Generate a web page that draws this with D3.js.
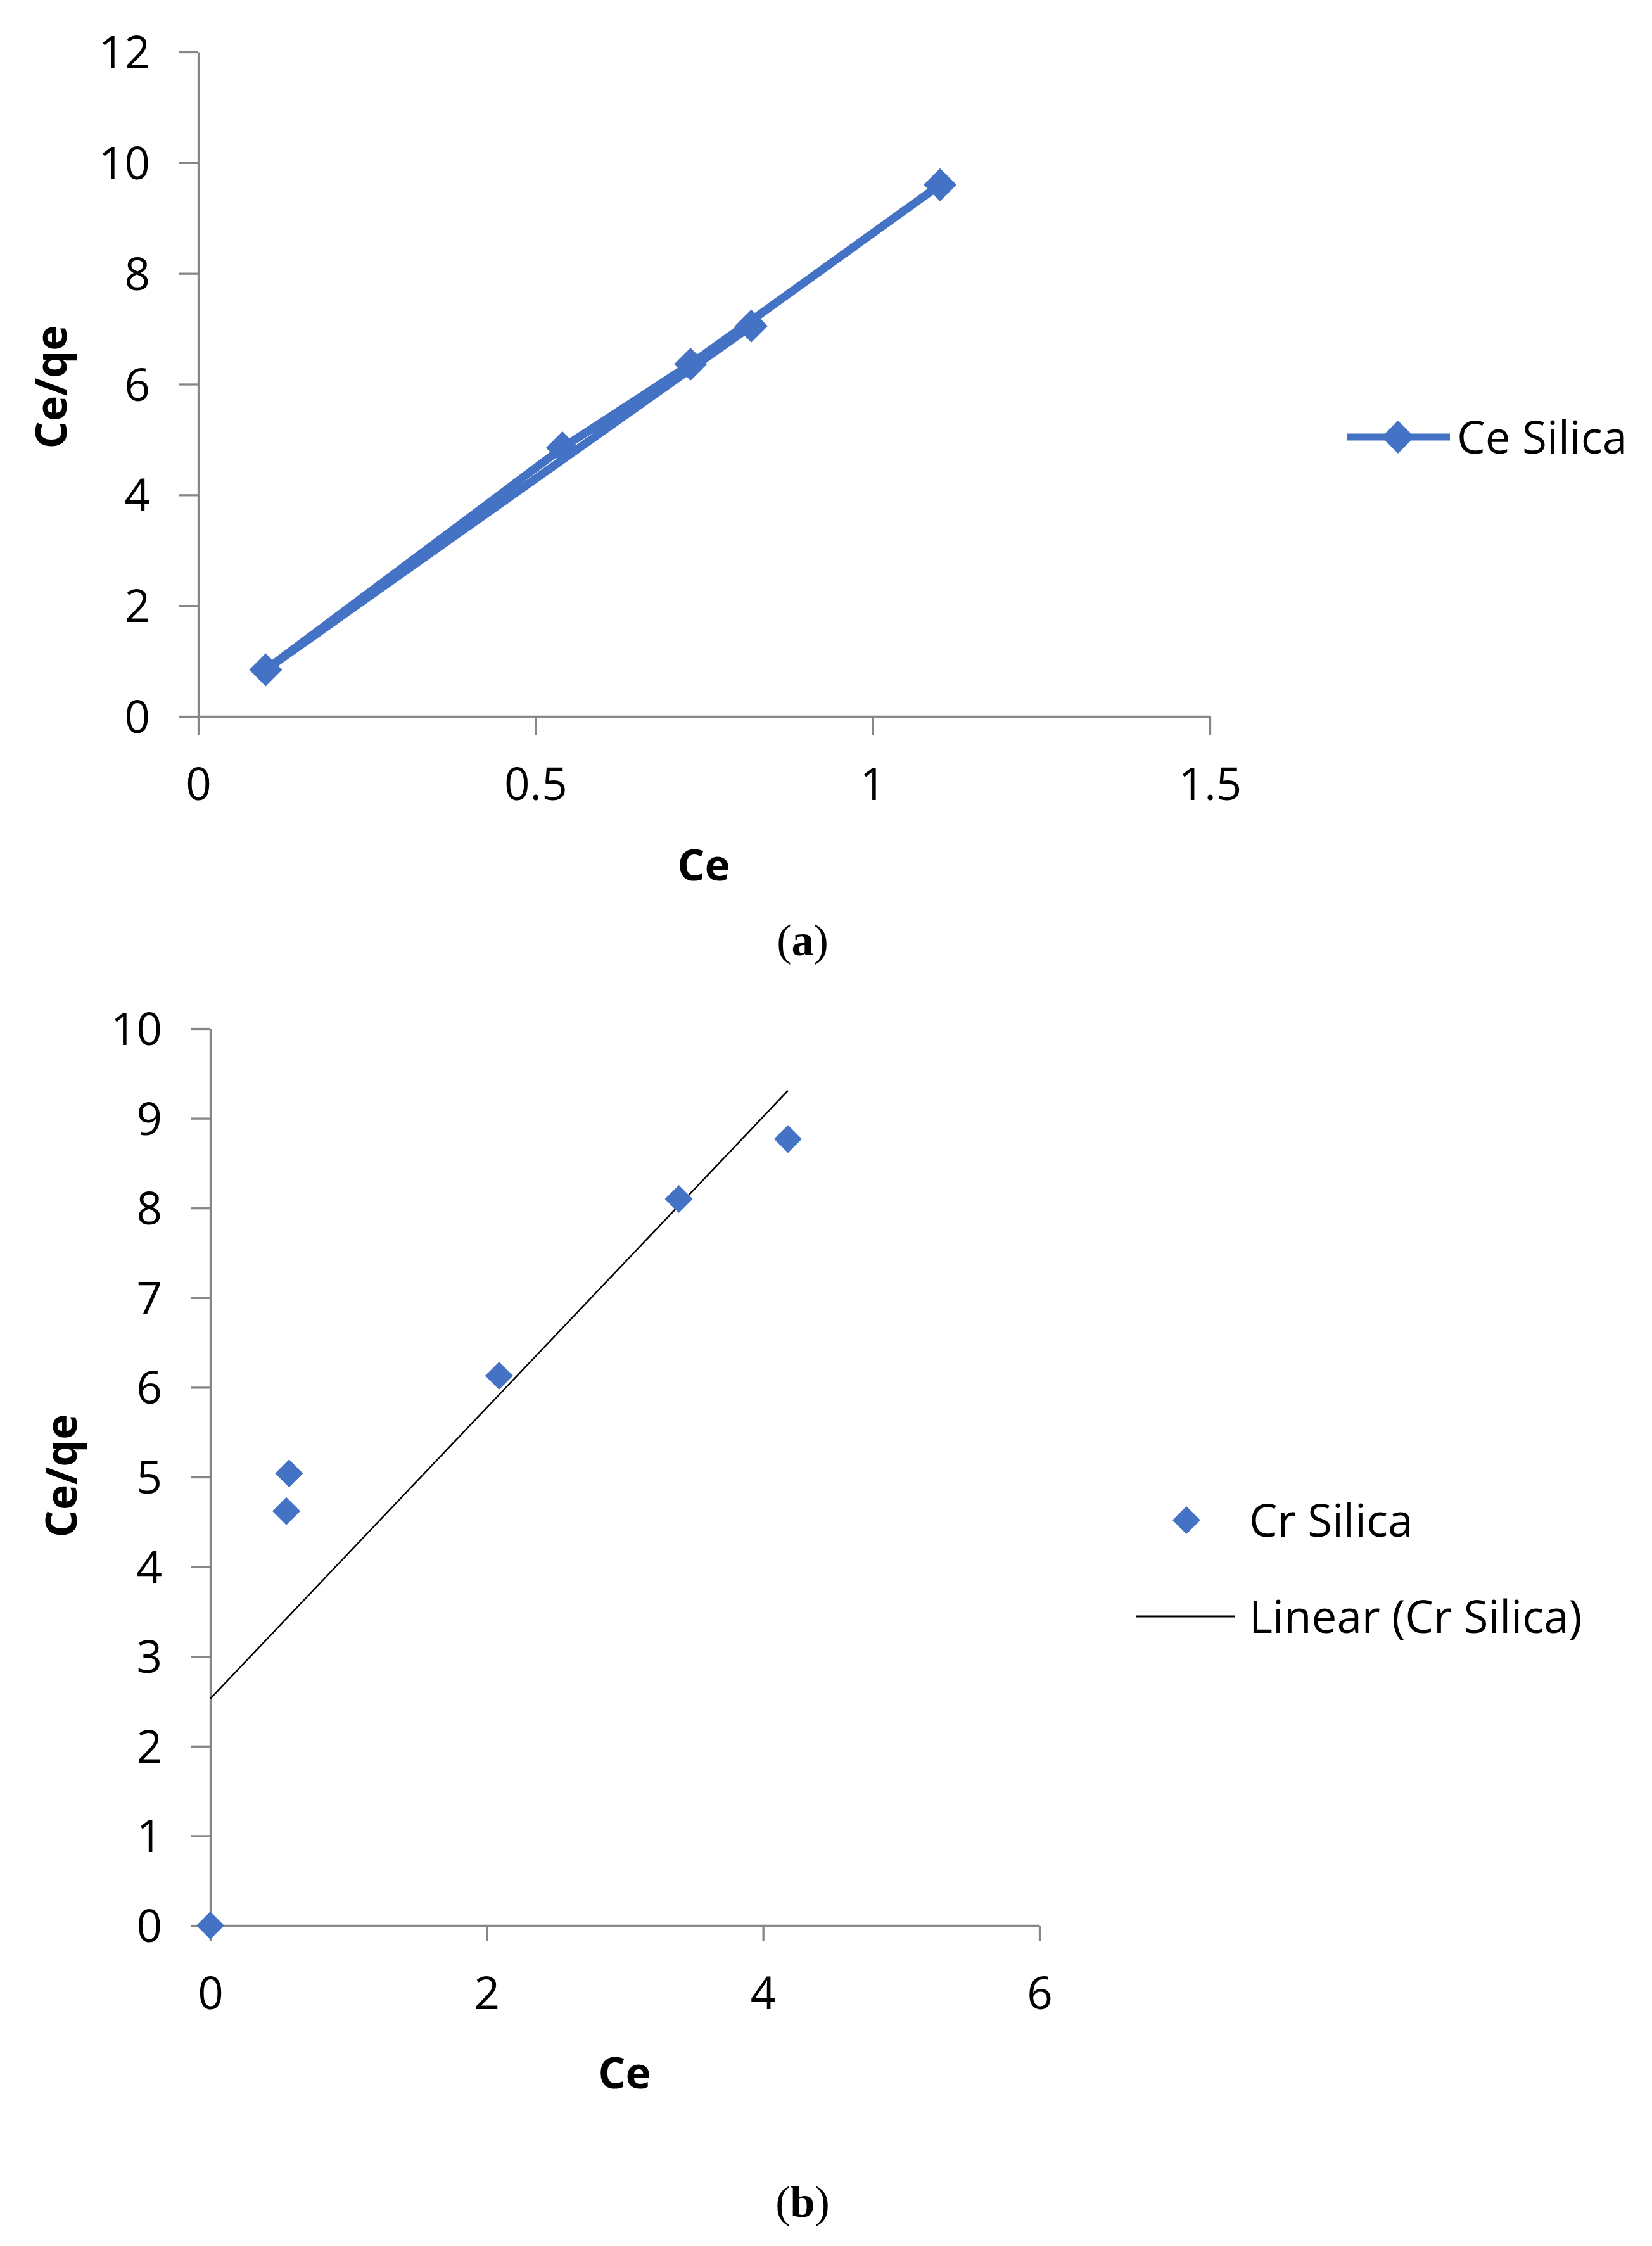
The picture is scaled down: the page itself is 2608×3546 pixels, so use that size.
<!DOCTYPE html>
<html>
<head>
<meta charset="utf-8">
<script src="https://cdn.jsdelivr.net/npm/d3@7"></script>
<style>
  html, body { margin: 0; padding: 0; background: #fff; }
  svg { display: block; }
</style>
</head>
<body>
<svg id="chart" width="2608" height="3546"></svg>
<script>
// ---------- DATA ----------
// Panel (a): Ce Silica (scatter with lines, in data order)
const ceX = [0.82, 0.10, 0.54, 0.73, 1.10];
const ceY = [7.05, 0.84, 4.85, 6.36, 9.60];
const aXTicks = [0, 0.5, 1, 1.5];
const aYTicks = [0, 2, 4, 6, 8, 10, 12];

// Panel (b): Cr Silica (markers only) + linear trendline
const crX = [0, 0.55, 0.57, 2.09, 3.39, 4.18];
const crY = [0, 4.62, 5.04, 6.13, 8.10, 8.77];
const bXTicks = [0, 2, 4, 6];
const bYTicks = [0, 1, 2, 3, 4, 5, 6, 7, 8, 9, 10];

const xTitle = "Ce";
const yTitle = "Ce/qe";
const legendA = ["Ce Silica"];
const legendB = ["Cr Silica", "Linear (Cr Silica)"];

// ---------- STYLE ----------
const BLUE = "#4472C4";
const AXIS = "#868686";
const FONT = "'Open Sans', sans-serif";
const TICK_FS = 71;

const svg = d3.select("#chart");
svg.append("rect").attr("width", 2608).attr("height", 3546).attr("fill", "#fff");

function diamond(g, x, y, diag) {
  const side = diag / Math.SQRT2;
  g.append("path")
    .attr("d", d3.symbol(d3.symbolSquare, side * side)())
    .attr("transform", `translate(${x},${y}) rotate(45)`)
    .attr("fill", BLUE);
}

function drawAxes(x, y, xTicks, yTicks, fmtX, tickLenX, tickLenY) {
  const gx = svg.append("g")
    .attr("transform", `translate(0,${y.range()[0]})`)
    .call(d3.axisBottom(x).tickValues(xTicks).tickFormat(fmtX).tickSize(tickLenX).tickSizeOuter(0));
  const gy = svg.append("g")
    .attr("transform", `translate(${x.range()[0]},0)`)
    .call(d3.axisLeft(y).tickValues(yTicks).tickFormat(d3.format("d")).tickSize(tickLenY).tickSizeOuter(0));
  [gx, gy].forEach(g => {
    g.select(".domain").attr("stroke", AXIS).attr("stroke-width", 3.3);
    g.selectAll(".tick line").attr("stroke", AXIS).attr("stroke-width", 3.3);
    g.selectAll(".tick text")
      .attr("font-family", FONT).attr("font-size", TICK_FS).attr("fill", "#000");
  });
  gx.selectAll(".tick text").attr("y", 132).attr("dy", 0);
  gy.selectAll(".tick text").attr("x", -(tickLenY + 46)).attr("dy", "0.36em");
}

function axisTitles(xcx, xcy, ycx, ycy) {
  svg.append("text").text(xTitle)
    .attr("x", xcx).attr("y", xcy).attr("dy", "0.36em")
    .attr("text-anchor", "middle")
    .attr("font-family", FONT).attr("font-weight", 700).attr("font-size", 68).attr("fill", "#000");
  svg.append("text").text(yTitle)
    .attr("transform", `translate(${ycx},${ycy}) rotate(-90)`)
    .attr("dy", "0.36em")
    .attr("text-anchor", "middle")
    .attr("font-family", FONT).attr("font-weight", 700).attr("font-size", 68).attr("fill", "#000");
}

function caption(letter, cx, baseline) {
  const t = svg.append("text")
    .attr("x", cx).attr("y", baseline).attr("text-anchor", "middle")
    .attr("font-family", "'Liberation Serif', 'Times New Roman', serif")
    .attr("font-size", 70).attr("fill", "#000");
  t.append("tspan").text("(");
  t.append("tspan").attr("font-weight", 700).text(letter);
  t.append("tspan").text(")");
}

// ---------- PANEL (a) ----------
const xa = d3.scaleLinear().domain([0, 1.5]).range([313, 1910]);
const ya = d3.scaleLinear().domain([0, 12]).range([1131, 82]);
drawAxes(xa, ya, aXTicks, aYTicks, d => d === 0 ? "0" : String(d), 29, 30);

const ptsA = ceX.map((v, i) => [v, ceY[i]]);
svg.append("path")
  .attr("d", d3.line().x(d => xa(d[0])).y(d => ya(d[1]))(ptsA))
  .attr("fill", "none").attr("stroke", BLUE).attr("stroke-width", 13)
  .attr("stroke-linejoin", "round").attr("stroke-linecap", "round");
const gA = svg.append("g");
ptsA.forEach(d => diamond(gA, xa(d[0]), ya(d[1]), 52));

axisTitles(1111, 1366, 81, 611);

// legend (a)
const legA = svg.append("g");
legA.append("line").attr("x1", 2126).attr("x2", 2289).attr("y1", 690).attr("y2", 690)
  .attr("stroke", BLUE).attr("stroke-width", 11);
diamond(legA, 2207, 690, 52);
legA.append("text").text(legendA[0]).attr("x", 2300).attr("y", 690).attr("dy", "0.36em")
  .attr("font-family", FONT).attr("font-size", TICK_FS).attr("fill", "#000");

caption("a", 1267, 1508);

// ---------- PANEL (b) ----------
const xb = d3.scaleLinear().domain([0, 6]).range([332, 1641]);
const yb = d3.scaleLinear().domain([0, 10]).range([3040, 1624]);
drawAxes(xb, yb, bXTicks, bYTicks, d3.format("d"), 25, 30);

// linear trendline (least squares on Cr Silica data)
const n = crX.length;
const mx = d3.mean(crX), my = d3.mean(crY);
let sxy = 0, sxx = 0;
for (let i = 0; i < n; i++) { sxy += (crX[i] - mx) * (crY[i] - my); sxx += (crX[i] - mx) ** 2; }
const slope = sxy / sxx, intercept = my - slope * mx;
const xMin = d3.min(crX), xMax = d3.max(crX);
svg.append("line")
  .attr("x1", xb(xMin)).attr("y1", yb(intercept + slope * xMin))
  .attr("x2", xb(xMax)).attr("y2", yb(intercept + slope * xMax))
  .attr("stroke", "#000").attr("stroke-width", 2.5);

const gB = svg.append("g");
crX.forEach((v, i) => diamond(gB, xb(v), yb(crY[i]), 44));

axisTitles(986, 3273, 97, 2330);

// legend (b)
const legB = svg.append("g");
diamond(legB, 1873, 2400, 44);
legB.append("text").text(legendB[0]).attr("x", 1972).attr("y", 2400).attr("dy", "0.36em")
  .attr("font-family", FONT).attr("font-size", TICK_FS).attr("fill", "#000");
legB.append("line").attr("x1", 1794).attr("x2", 1950).attr("y1", 2552).attr("y2", 2552)
  .attr("stroke", "#000").attr("stroke-width", 3);
legB.append("text").text(legendB[1]).attr("x", 1972).attr("y", 2552).attr("dy", "0.36em")
  .attr("font-family", FONT).attr("font-size", TICK_FS).attr("fill", "#000");

caption("b", 1267, 3500);
</script>
</body>
</html>
